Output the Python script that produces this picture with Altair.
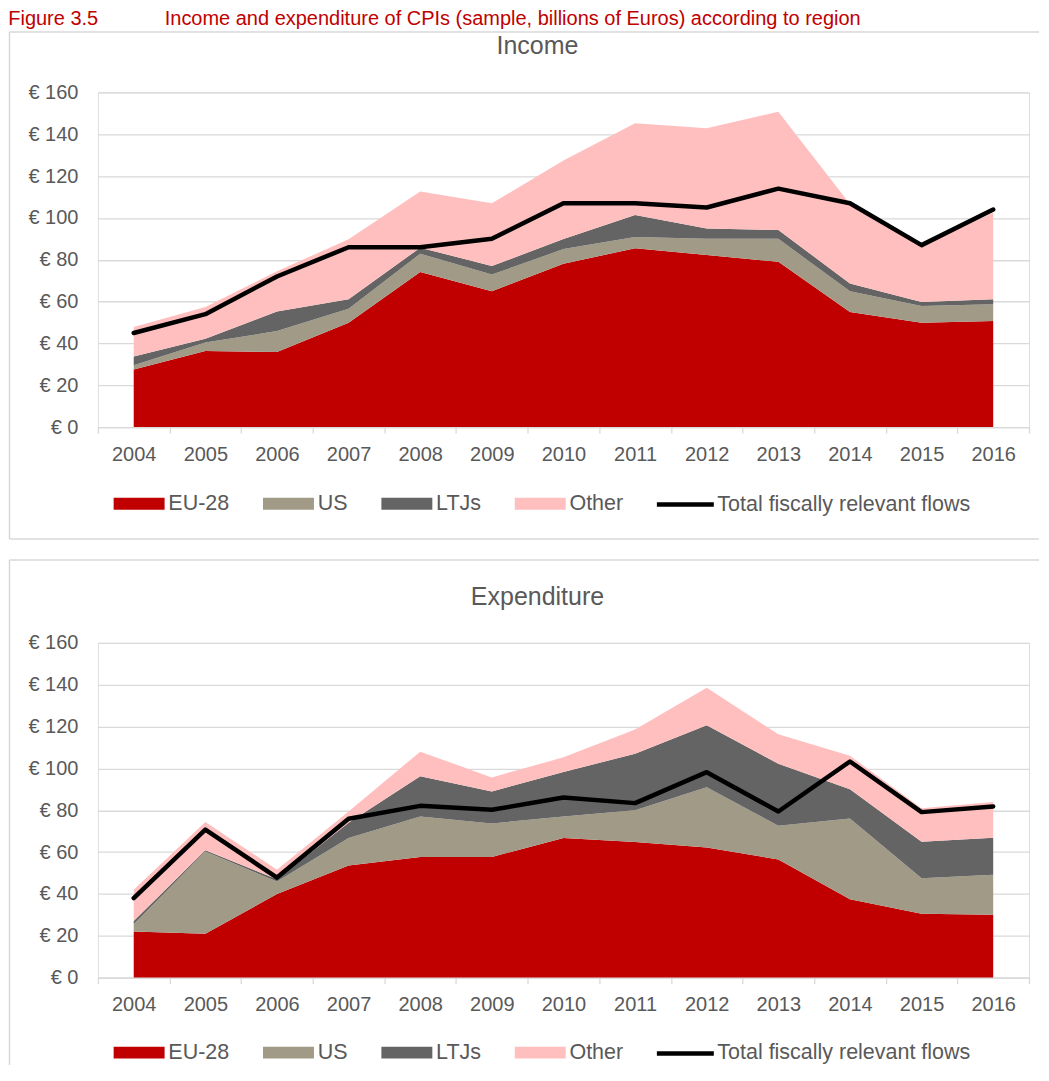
import altair as alt
import pandas as pd

years = [str(y) for y in range(2004, 2017)]
regions = ["EU-28", "US", "LTJs", "Other"]
region_colors = ["#c00000", "#a09a87", "#646464", "#ffbfbf"]
total_label = "Total fiscally relevant flows"
y_ticks = [0, 20, 40, 60, 80, 100, 120, 140, 160]

# Income (billions of Euros)
income_eu = [27.6, 36.4, 35.9, 49.9, 74.2, 64.9, 78.1, 85.5, 82.3, 79.0, 55.0, 49.9, 50.7]
income_us = [2.0, 4.0, 10.0, 6.7, 8.7, 8.0, 7.0, 5.4, 7.8, 11.0, 10.0, 8.0, 8.0]
income_ltj = [4.2, 1.9, 9.4, 4.5, 2.9, 4.1, 4.8, 10.5, 4.8, 4.2, 3.7, 1.9, 2.4]
income_other = [14.1, 15.1, 19.2, 28.7, 26.8, 30.0, 37.5, 43.9, 48.0, 56.6, 38.0, 26.7, 41.5]
income_total = [45, 54, 72, 86, 86, 90, 107, 107, 105, 114, 107, 87, 104]

# Expenditure (billions of Euros)
exp_eu = [22.0, 20.9, 39.9, 53.6, 57.7, 57.7, 66.7, 64.8, 62.2, 56.5, 37.5, 30.5, 30.0]
exp_us = [3.5, 39.4, 6.0, 13.1, 19.3, 16.0, 10.3, 15.2, 28.8, 16.1, 38.5, 17.0, 19.1]
exp_ltj = [1.6, 0.6, 1.1, 7.3, 19.2, 15.3, 21.3, 27.0, 29.6, 29.6, 14.0, 17.4, 17.8]
exp_other = [14.9, 13.5, 4.6, 5.4, 11.8, 6.7, 7.0, 11.6, 18.0, 14.1, 16.0, 16.1, 17.0]
exp_total = [38, 70.7, 47.8, 75.9, 82.1, 80.2, 86.1, 83.4, 98.2, 79.4, 103.3, 79.1, 81.8]

FONT = "Liberation Sans"
TXT = "#595959"
GRID = "#d9d9d9"
W, H = 932, 335


def make_panel(name, eu, us, ltj, other, total, frame_top, frame_bottom, bottom_rule, legend_y):
    rows = []
    for i, yr in enumerate(years):
        for k, (reg, vals) in enumerate(zip(regions, [eu, us, ltj, other])):
            rows.append({"year": yr, "region": reg, "k": k, "value": vals[i]})
    area_df = pd.DataFrame(rows)
    line_df = pd.DataFrame({"year": years, "series": [total_label] * len(years), "value": total})
    one = pd.DataFrame({"a": [0]})

    x_enc = alt.X(
        "year:O",
        bandPosition=0.5,
        scale=alt.Scale(type="band", domain=years, paddingInner=0, paddingOuter=0),
        axis=alt.Axis(
            title=None, labelAngle=0, tickBand="extent", tickSize=6, tickColor=GRID,
            tickWidth=1.3, domainColor=GRID, domainWidth=1.3, labelFont=FONT,
            labelFontSize=20, labelColor=TXT, labelPadding=11, grid=False,
        ),
    )
    y_scale = alt.Scale(domain=[0, 160], nice=False, zero=True)
    y_axis = alt.Axis(
        title=None, values=y_ticks, ticks=False, domain=False,
        labelExpr="'€ ' + datum.value", labelFont=FONT, labelFontSize=20,
        labelColor=TXT, labelPadding=20, gridColor=GRID, gridWidth=1.3,
    )

    areas = alt.Chart(area_df).mark_area(opacity=1).encode(
        x=x_enc,
        y=alt.Y("value:Q", stack="zero", scale=y_scale, axis=y_axis),
        color=alt.Color(
            "region:N",
            scale=alt.Scale(domain=regions, range=region_colors),
            legend=alt.Legend(
                title=None, orient="none", legendX=30.5, legendY=legend_y,
                direction="horizontal", symbolType="M-4.25,-1H4.25V1H-4.25Z",
                symbolSize=144, symbolStrokeWidth=0, symbolOpacity=1,
                labelFont=FONT, labelFontSize=21.5, labelColor=TXT,
                labelOffset=18.5, columnPadding=33.5, labelLimit=400, padding=0,
            ),
        ),
        order=alt.Order("k:Q", sort="ascending"),
    )

    line = alt.Chart(line_df).mark_line(
        strokeWidth=4.5, strokeJoin="round", strokeCap="round"
    ).encode(
        x=x_enc,
        y=alt.Y("value:Q", scale=y_scale, axis=y_axis),
        stroke=alt.Stroke(
            "series:N",
            scale=alt.Scale(domain=[total_label], range=["#000000"]),
            legend=alt.Legend(
                title=None, orient="none", legendX=576, legendY=legend_y,
                direction="horizontal", symbolType="M-3,0H3", symbolSize=361,
                symbolStrokeWidth=4.5, labelFont=FONT, labelFontSize=21.5,
                labelColor=TXT, labelOffset=20, labelLimit=400, padding=0,
            ),
        ),
    )

    frame_left = alt.Chart(one).mark_rule(color=GRID, strokeWidth=1.5).encode(
        x=alt.value(-88.5), y=alt.value(frame_top), y2=alt.value(frame_bottom)
    )
    frame_top_rule = alt.Chart(one).mark_rule(color=GRID, strokeWidth=1.5).encode(
        x=alt.value(-88.5), x2=alt.value(942), y=alt.value(frame_top)
    )
    layers = [frame_left, frame_top_rule]
    if bottom_rule:
        layers.append(
            alt.Chart(one).mark_rule(color=GRID, strokeWidth=1.5).encode(
                x=alt.value(-88.5), x2=alt.value(942), y=alt.value(frame_bottom)
            )
        )
    title_txt = alt.Chart(one).mark_text(
        text=name, font=FONT, fontSize=25, color=TXT, align="center", baseline="alphabetic"
    ).encode(x=alt.value(440), y=alt.value(-38))
    layers += [areas, line, title_txt]

    return alt.layer(*layers).properties(width=W, height=H).resolve_scale(
        color="independent", stroke="independent"
    )


top = make_panel("Income", income_eu, income_us, income_ltj, income_other, income_total,
                 -60.5, 447, True, 400.5)
bottom = make_panel("Expenditure", exp_eu, exp_us, exp_ltj, exp_other, exp_total,
                    -83, 422.5, False, 399)

chart = alt.vconcat(
    top, bottom, spacing=17,
    title=alt.TitleParams(
        text="Figure 3.5" + "\u00a0" * 12 + "Income and expenditure of CPIs (sample, billions of Euros) according to region",
        anchor="start", font=FONT, fontSize=20,
        fontWeight="normal", color="#c00000", offset=2,
    ),
).resolve_scale(color="independent", stroke="independent").resolve_legend(
    color="independent", stroke="independent"
).properties(padding=0).configure_view(strokeWidth=0).configure(background="white")

chart.save("out.html", embed_options={"renderer": "svg", "actions": False})
